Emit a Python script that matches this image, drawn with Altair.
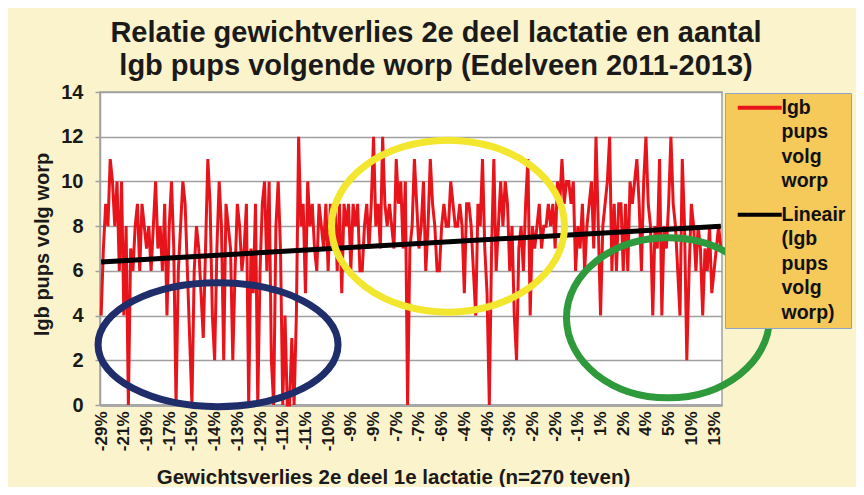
import altair as alt
import pandas as pd

# ---- data ----
lgb = [
    4, 7, 9, 8, 11, 10, 8, 10, 6, 10,
    4, 8, 0, 7, 6, 8, 9, 6, 9, 8,
    7, 8, 6, 8, 10, 7, 8, 6, 9, 4,
    8, 10, 7, 0, 6, 8, 10, 9, 6, 3,
    0, 6, 8, 7, 5, 3, 7, 11, 9, 4,
    2, 7, 10, 8, 2, 9, 8, 7, 2, 6,
    9, 8, 6, 7, 9, 0, 7, 5, 9, 0,
    6, 9, 10, 6, 10, 2, 0, 8, 10, 7,
    0, 4, 0, 0, 3, 0, 4, 12, 8, 9,
    5, 10, 8, 9, 7, 6, 9, 8, 7, 9,
    6, 9, 8, 9, 6, 9, 5, 9, 8, 9,
    6, 9, 8, 9, 6, 6, 8, 9, 7, 9,
    12, 8, 9, 7, 12, 9, 8, 9, 8, 7,
    11, 9, 10, 7, 10, 0, 7, 8, 11, 9,
    7, 8, 10, 6, 8, 11, 9, 8, 6, 6,
    8, 9, 8, 8, 10, 9, 8, 8, 9, 8,
    5, 9, 9, 8, 6, 4, 9, 8, 11, 7,
    5, 0, 7, 11, 6, 8, 10, 8, 10, 9,
    6, 8, 4, 2, 7, 8, 6, 9, 11, 4,
    8, 7, 8, 9, 7, 8, 8, 9, 8, 9,
    7, 10, 9, 11, 9, 10, 10, 9, 10, 6,
    8, 7, 9, 6, 8, 9, 10, 7, 12, 8,
    4, 8, 9, 10, 12, 6, 9, 6, 9, 9,
    6, 9, 6, 10, 9, 10, 11, 9, 6, 10,
    12, 9, 8, 4, 8, 7, 11, 4, 8, 7,
    9, 12, 9, 8, 6, 4, 11, 8, 2, 6,
    9, 8, 6, 8, 7, 4, 7, 6, 8, 5,
    6, 7, 8, 7,
]

tick_labels = ["-29%", "-21%", "-19%", "-17%", "-15%", "-14%", "-13%", "-12%",
               "-11%", "-11%", "-10%", "-9%", "-9%", "-7%", "-7%", "-6%", "-4%",
               "-4%", "-3%", "-2%", "-2%", "-1%", "1%", "2%", "4%", "5%", "10%", "13%"]

trend_x = [0, 273]
trend_y = [6.4, 8.0]

series_names = ["lgb pups volg worp", "Lineair (lgb pups volg worp)"]

# annotation ellipses (centre in data units)
ellipse_i = [51.5, 152.8, 249.7]
ellipse_v = [2.7, 8.0, 3.9]

# ---- styling ----
BG = "#FAF3CC"
FONT = "Liberation Sans"
series_colors = ["#E8141B", "#000000"]
ellipse_w = [240, 233, 203]
ellipse_h = [124, 172, 160]
ellipse_colors = ["#1F2D6B", "#F3E62E", "#2E9A3C"]

n = len(lgb)
base_df = pd.DataFrame({"i": list(range(n)), "v": lgb, "reeks": series_names[0]})
trend_df = pd.DataFrame({"i": trend_x, "v": trend_y, "reeks": series_names[1]})

label_array = "[" + ",".join("'" + t + "'" for t in tick_labels) + "]"

x_enc = alt.X(
    "i:Q",
    scale=alt.Scale(domain=[-0.5, n - 0.5], nice=False, zero=False),
    axis=alt.Axis(
        values=list(range(0, 10 * len(tick_labels), 10)),
        labelExpr=label_array + "[round(datum.value/10)]",
        labelAngle=-90,
        labelFontSize=17,
        labelFontWeight="bold",
        labelColor="#1a1a1a",
        labelPadding=6,
        labelOverlap=False,
        labelBound=False,
        labelSeparation=0,
        ticks=False,
        grid=False,
        domainColor="#A8A8A8",
        domainWidth=3,
        title="Gewichtsverlies 2e deel 1e lactatie (n=270 teven)",
        titleFontSize=20.5,
        titleFontWeight="bold",
        titleColor="#1a1a1a",
        titleX=293,
        titleY=72,
        titleAlign="center",
        titleBaseline="middle",
    ),
)

y_enc = alt.Y(
    "v:Q",
    scale=alt.Scale(domain=[0, 14], nice=False),
    axis=alt.Axis(
        values=list(range(0, 15, 2)),
        labelFontSize=20,
        labelFontWeight="bold",
        labelColor="#1a1a1a",
        labelPadding=12,
        tickSize=5,
        tickColor="#A0A0A0",
        tickWidth=1.5,
        domainColor="#A0A0A0",
        domainWidth=1.5,
        gridColor="#A0A0A0",
        gridWidth=1.5,
        title="lgb pups volg worp",
        titleFontSize=20,
        titleFontWeight="bold",
        titleColor="#1a1a1a",
        titleX=-58,
        titleY=152,
        titleAlign="center",
        titleBaseline="middle",
    ),
)

legend_symbol = "M-1,0H21"

color_enc = alt.Color(
    "reeks:N",
    sort=series_names,
    scale=alt.Scale(domain=series_names, range=series_colors),
    legend=alt.Legend(
        title=None,
        orient="none",
        legendX=625,
        legendY=1,
        fillColor="#F5C95A",
        strokeColor="#8EA4C4",
        padding=5,
        labelFontSize=19.5,
        labelFontWeight="bold",
        labelColor="#111111",
        labelExpr="split(datum.label, ' ')",
        labelLimit=300,
        labelOffset=32,
        symbolType=legend_symbol,
        symbolStrokeWidth=4,
        symbolSize=16,
        rowPadding=13,
    ),
)

line = alt.Chart(base_df).mark_line(strokeWidth=3).encode(x=x_enc, y=y_enc, color=color_enc)
trend = alt.Chart(trend_df).mark_line(strokeWidth=5).encode(x=x_enc, y=y_enc, color="reeks:N")

layers = [line, trend]
for ci, cv, w, h, col in zip(ellipse_i, ellipse_v, ellipse_w, ellipse_h, ellipse_colors):
    k = h / w
    path = f"M-1,0A1,{k:.4f},0,1,0,1,0A1,{k:.4f},0,1,0,-1,0Z"
    e_df = pd.DataFrame({"i": [ci], "v": [cv]})
    layers.append(
        alt.Chart(e_df).mark_point(shape=path, size=w * w, filled=False,
                                   strokeWidth=7, color=col, opacity=1)
        .encode(x=x_enc, y=y_enc)
    )

chart = (
    alt.layer(*layers)
    .properties(
        width=622,
        height=313,
        title=alt.TitleParams(
            text=["Relatie gewichtverlies 2e deel lactatie en aantal",
                  "lgb pups volgende worp (Edelveen 2011-2013)"],
            fontSize=29,
            fontWeight="bold",
            color="#1a1a1a",
            anchor="middle",
            dx=25,
            offset=1,
            lineHeight=33,
            font=FONT,
        ),
        padding={"left": 92, "top": 84, "right": 134, "bottom": 82},
        autosize=alt.AutoSizeParams(type="none"),
        background=BG,
    )
    .configure(font=FONT, style={"guide-label": {"lineHeight": 24.5}})
    .configure_axisX(labelOverlap=False)
    .configure_view(fill="white", stroke="#A0A0A0", strokeWidth=1.5)
)

chart.save("out.html", embed_options={"renderer": "svg", "actions": False})
